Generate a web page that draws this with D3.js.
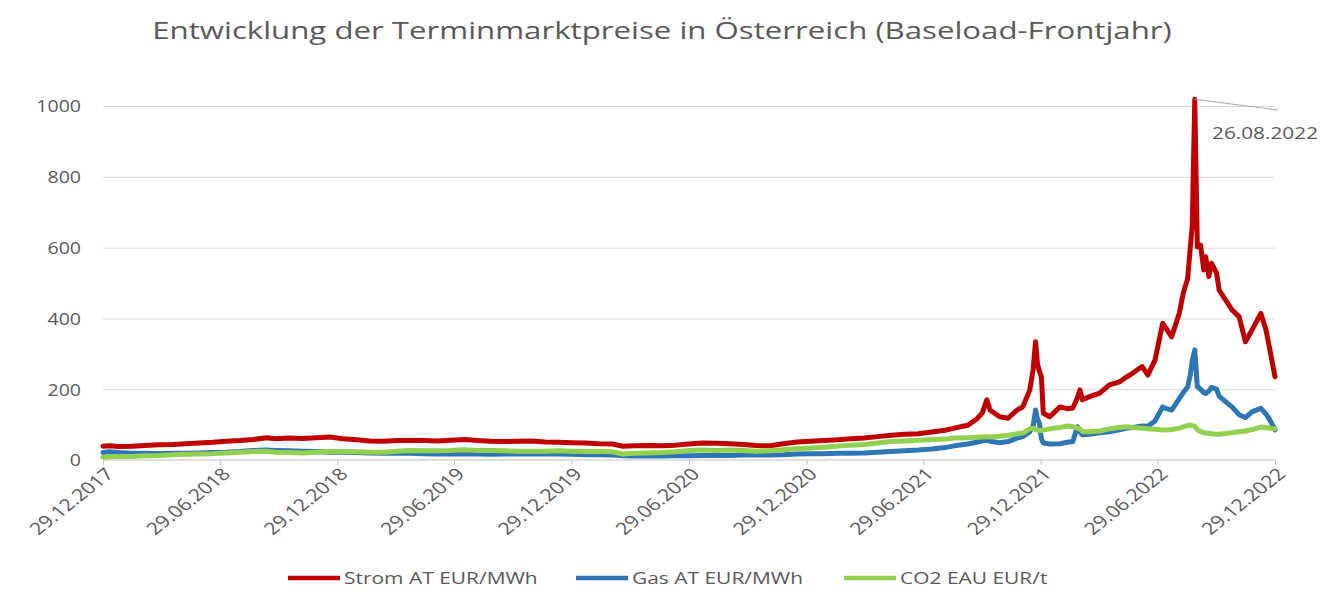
<!DOCTYPE html>
<html><head><meta charset="utf-8">
<script src="https://cdn.jsdelivr.net/npm/d3@7"></script>
<style>
body{margin:0;background:#fff}
svg{display:block}
text{font-family:"Open Sans",sans-serif;fill:#595959}
</style>
</head><body>
<svg id="chart" width="1330" height="603"></svg>
<script>
// ---------- DATA ----------
const title = "Entwicklung der Terminmarktpreise in Österreich (Baseload-Frontjahr)";
const seriesNames = ["Strom AT EUR/MWh", "Gas AT EUR/MWh", "CO2 EAU EUR/t"];
const seriesColors = ["#C00000", "#2E75B6", "#92D050"];
const yTicks = [0, 200, 400, 600, 800, 1000];
const xTickLabels = ["29.12.2017","29.06.2018","29.12.2018","29.06.2019","29.12.2019","29.06.2020","29.12.2020","29.06.2021","29.12.2021","29.06.2022","29.12.2022"];
const annotationDate = "2022-08-26";
const annotationLabel = "26.08.2022";

const dates = ["2017-12-29","2018-01-08","2018-01-22","2018-02-12","2018-03-05","2018-03-26","2018-04-16","2018-05-07","2018-05-28","2018-06-18",
"2018-07-09","2018-07-30","2018-08-20","2018-09-10","2018-09-24","2018-10-15","2018-11-05","2018-11-26","2018-12-17","2019-01-07",
"2019-01-28","2019-02-18","2019-03-11","2019-04-01","2019-04-22","2019-05-13","2019-06-03","2019-06-24","2019-07-15","2019-08-05",
"2019-08-26","2019-09-16","2019-10-07","2019-10-28","2019-11-18","2019-12-09","2019-12-30","2020-01-20","2020-02-10","2020-03-02",
"2020-03-18","2020-04-06","2020-04-27","2020-05-18","2020-06-08","2020-06-29","2020-07-20","2020-08-10","2020-08-31","2020-09-21",
"2020-10-12","2020-11-02","2020-11-23","2020-12-14","2021-01-04","2021-01-25","2021-02-15","2021-03-08","2021-03-29","2021-04-19",
"2021-05-10","2021-05-31","2021-06-21","2021-07-12","2021-08-02","2021-08-16","2021-09-06","2021-09-20","2021-09-29","2021-10-06",
"2021-10-11","2021-10-26","2021-11-08","2021-11-22","2021-12-01","2021-12-12","2021-12-17","2021-12-21","2021-12-24","2021-12-27",
"2021-12-30","2022-01-02","2022-01-12","2022-01-28","2022-02-08","2022-02-17","2022-02-24","2022-02-28","2022-03-04","2022-03-15",
"2022-03-31","2022-04-15","2022-05-01","2022-05-12","2022-05-21","2022-06-05","2022-06-14","2022-06-25","2022-07-07","2022-07-13",
"2022-07-21","2022-08-02","2022-08-08","2022-08-15","2022-08-19","2022-08-22","2022-08-26","2022-08-30","2022-09-04","2022-09-09",
"2022-09-12","2022-09-17","2022-09-21","2022-09-29","2022-10-03","2022-10-13","2022-10-23","2022-11-03","2022-11-13","2022-11-23",
"2022-12-07","2022-12-15","2022-12-22","2022-12-29"];

const strom = [39,40,38,39,41,43,44,46,48,50,
53,55,58,63,60,62,61,63,65,60,
57,54,53,55,56,55,54,56,58,55,
53,52,53,54,51,50,49,48,46,45,
39,40,41,40,42,45,48,47,46,44,
41,40,46,51,53,55,57,60,62,66,
70,73,74,79,84,90,98,115,133,170,
141,122,118,141,150,198,254,334,270,250,
235,132,122,150,145,147,175,198,170,179,
189,212,221,235,245,264,240,282,386,370,
348,415,471,513,600,659,1019,602,607,537,
574,518,556,528,480,452,424,405,334,367,
414,367,302,235];

const gas = [21,23,21,19,19,18,19,19,20,21,
22,24,27,28,27,26,25,24,22,22,
21,20,19,20,19,18,17,17,18,17,
16,17,17,18,17,17,16,15,15,14,
12,11,11,11,12,12,13,13,13,14,
14,14,15,17,18,18,19,19,20,22,
24,26,28,31,35,40,45,50,54,56,
53,49,52,62,66,80,95,141,115,104,
60,48,45,46,50,52,94,80,71,73,
77,80,85,90,92,96,95,110,150,145,
141,174,190,207,240,280,311,207,200,190,
188,195,205,200,180,165,150,128,120,136,
146,130,110,85];

const co2 = [8,9,10,10,12,13,15,16,17,18,
20,22,24,25,22,21,20,22,24,24,
23,22,22,25,27,26,26,27,29,27,
27,26,25,25,25,26,25,24,24,23,
17,19,20,21,23,27,28,27,28,27,
25,26,29,32,34,36,39,42,44,48,
52,54,56,58,59,62,63,64,65,66,
65,67,70,74,76,88,90,86,84,83,
83,85,88,92,96,94,90,88,80,80,
82,88,92,94,92,90,88,87,85,85,
86,90,94,97,99,97,95,86,80,77,
76,75,74,73,73,75,77,80,82,86,
93,91,90,88];

// ---------- CHART ----------
const svg = d3.select("#chart");
const parseISO = d3.timeParse("%Y-%m-%d");
const parseDE = d3.timeParse("%d.%m.%Y");
const fmtDE = d3.timeFormat("%d.%m.%Y");
const D = dates.map(parseISO);
const series = [strom, gas, co2];

const pL = 103, pR = 1275, pT = 106, pB = 460;
const x = d3.scaleTime().domain([parseDE(xTickLabels[0]), parseDE(xTickLabels[xTickLabels.length-1])]).range([pL, pR]);
const y = d3.scaleLinear().domain([0, 1000]).range([pB, pT]);

const SX = 1.15;

// Title
const t = svg.append("text").attr("font-size", 24).attr("text-anchor", "middle").text(title);
const tw = t.node().getComputedTextLength();
t.attr("transform", `translate(662,39) scale(${1020 / tw},1)`);

// Y axis + grid
const yAxis = svg.append("g").attr("transform", `translate(${pL},0)`)
  .call(d3.axisLeft(y).tickValues(yTicks).tickSize(-(pR - pL)).tickFormat(d3.format("d")));
yAxis.select(".domain").remove();
yAxis.selectAll(".tick line").attr("stroke", "#d9d9d9").attr("stroke-width", 1)
  .attr("display", d => d === 0 ? "none" : null);
yAxis.selectAll(".tick text").attr("x", null).attr("dy", "0.35em")
  .attr("font-size", 17).attr("fill", "#595959").attr("font-family", "Open Sans")
  .attr("transform", `translate(-22,0) scale(${SX},1)`);

// X axis
const xAxis = svg.append("g").attr("transform", `translate(0,${pB})`)
  .call(d3.axisBottom(x).tickValues(xTickLabels.map(parseDE)).tickSize(5).tickFormat(fmtDE));
xAxis.select(".domain").attr("stroke", "#bfbfbf").attr("d", `M${pL},0H${pR}`);
xAxis.selectAll(".tick line").attr("stroke", "#bfbfbf");
xAxis.selectAll(".tick text").attr("x", null).attr("y", null).attr("dy", "0.35em")
  .attr("font-size", 16.8).attr("fill", "#595959").attr("font-family", "Open Sans")
  .attr("text-anchor", "end")
  .attr("transform", "translate(6,11) scale(1.26,1) rotate(-45)");

// Lines
const line = d3.line().x((d, i) => x(D[i])).y(d => y(d));
series.forEach((s, k) => {
  svg.append("path").datum(s).attr("d", line)
    .attr("fill", "none").attr("stroke", seriesColors[k])
    .attr("stroke-width", 5).attr("stroke-linejoin", "round").attr("stroke-linecap", "round");
});

// Annotation
const ai = dates.indexOf(annotationDate);
const ax = x(D[ai]), ay = y(strom[ai]);
svg.append("line").attr("x1", ax).attr("y1", ay).attr("x2", 1278).attr("y2", 110)
  .attr("stroke", "#a6a6a6").attr("stroke-width", 1);
svg.append("text").attr("font-size", 16).attr("transform", `translate(1212,139) scale(1.3,1)`).text(annotationLabel);

// Legend
const legendStarts = [288, 576, 844];
seriesNames.forEach((n, k) => {
  const lx = legendStarts[k];
  svg.append("line").attr("x1", lx).attr("x2", lx + 52).attr("y1", 578).attr("y2", 578)
    .attr("stroke", seriesColors[k]).attr("stroke-width", 4.5);
  svg.append("text").attr("font-size", 16.5).attr("dy", "0.35em")
    .attr("transform", `translate(${lx + 56},578) scale(1.27,1)`).text(n);
});
</script>
</body></html>
